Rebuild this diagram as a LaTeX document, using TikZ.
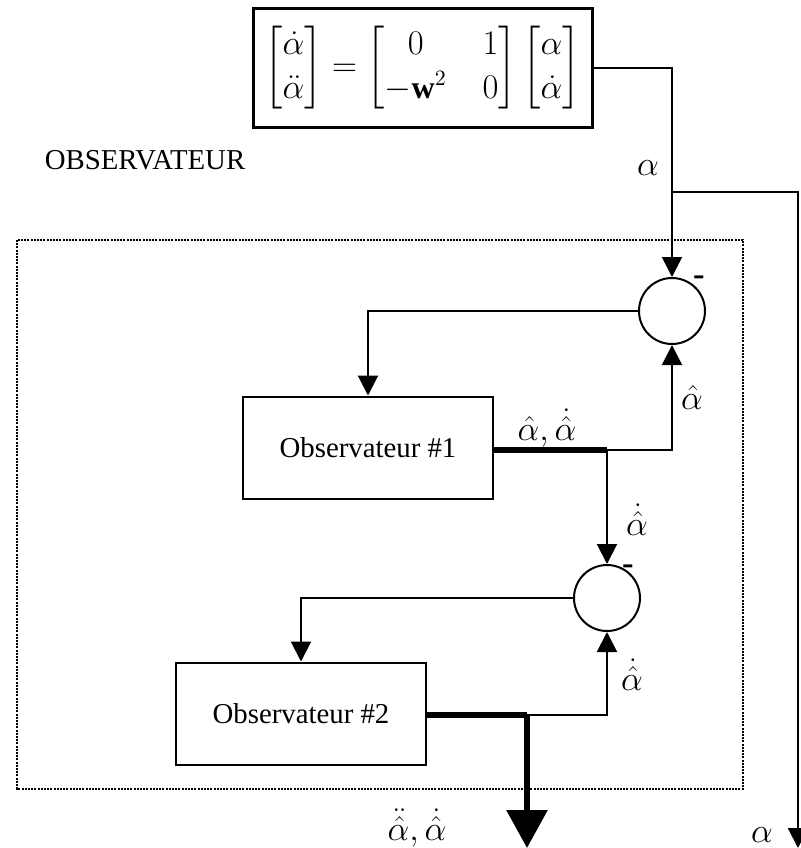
\documentclass[tikz,border=0pt]{standalone}
\usepackage{amsmath}
\usepackage{fontspec}
\setmainfont{Liberation Serif}
\usetikzlibrary{arrows.meta}

\begin{document}
\begin{tikzpicture}[x=0.5pt,y=-0.5pt,font=\Large,
        blk/.style={draw, line width=1pt, minimum width=125pt, minimum height=51pt, inner sep=0pt},
        sum/.style={draw, circle, line width=1pt, minimum size=33pt, inner sep=0pt},
        sig/.style={line width=1pt, -{Triangle[width=10pt,length=10pt]}},
        bus/.style={line width=3pt},
        lbl/.style={font=\LARGE, inner sep=1pt}]
        \useasboundingbox (0,0) rectangle (800,848);

        \node[draw, line width=1.5pt, minimum width=169.5pt, minimum height=59.5pt, font=\fontsize{16}{19}\selectfont] (eq) at (422.5,67.5)
            {\renewcommand{\arraystretch}{1.15}$\begin{bmatrix}\dot{\alpha}\\ \ddot{\alpha}\end{bmatrix}
            =\begin{bmatrix}0 & \hphantom{0}1\\ -\mathbf{w}^2 & \hphantom{0}0\end{bmatrix}
            \begin{bmatrix}\alpha\\ \dot{\alpha}\end{bmatrix}$};
        \node (obs) at (145,160) {OBSERVATEUR};

        \draw[line width=0.8pt, dash pattern=on 1pt off 0.6pt] (17,240) rectangle (743,789);

        \node[sum] (s1) at (672,311) {};
        \node[sum] (s2) at (607,598) {};
        \node[blk] (b1) at (368,447.5) {Observateur \#1};
        \node[blk] (b2) at (301,713.5) {Observateur \#2};

        \coordinate (br) at (672,192);
        \coordinate (aout) at (798,848);
        \coordinate (j1) at (607,450);
        \coordinate (j2) at (527,715);
        \coordinate (out) at (527,848);

        \draw[sig] (eq.east) -| (s1.north);
        \draw[sig] (br) -| (aout);
        \draw[sig] (s1.west) -| (b1.north);
        \draw[bus] (b1.east |- j1) -- (j1);
        \draw[sig] (j1) -| (s1.south);
        \draw[sig] (j1) -- (s2.north);
        \draw[sig] (s2.west) -| (b2.north);
        \draw[bus] (b2.east |- j2) -- (j2);
        \draw[bus, -{Triangle[width=20pt,length=19pt]}] (j2) -- (out);
        \draw[sig] (j2) -| (s2.south);

        \node[lbl] (m1) at (699,281) {\bfseries -};
        \node[lbl] (m2) at (628,570) {\bfseries -};
        \node[lbl] (l1) at (648,168) {$\alpha$};
        \node[lbl] (l2) at (692,397) {$\hat{\alpha}$};
        \node[lbl] (l3) at (547,428) {$\hat{\alpha},\dot{\hat{\alpha}}$};
        \node[lbl] (l4) at (637,520) {$\dot{\hat{\alpha}}$};
        \node[lbl] (l5) at (632,675) {$\dot{\hat{\alpha}}$};
        \node[lbl] (l6) at (417,828) {$\ddot{\hat{\alpha}},\dot{\hat{\alpha}}$};
        \node[lbl] (l7) at (762,835) {$\alpha$};
\end{tikzpicture}
\end{document}
